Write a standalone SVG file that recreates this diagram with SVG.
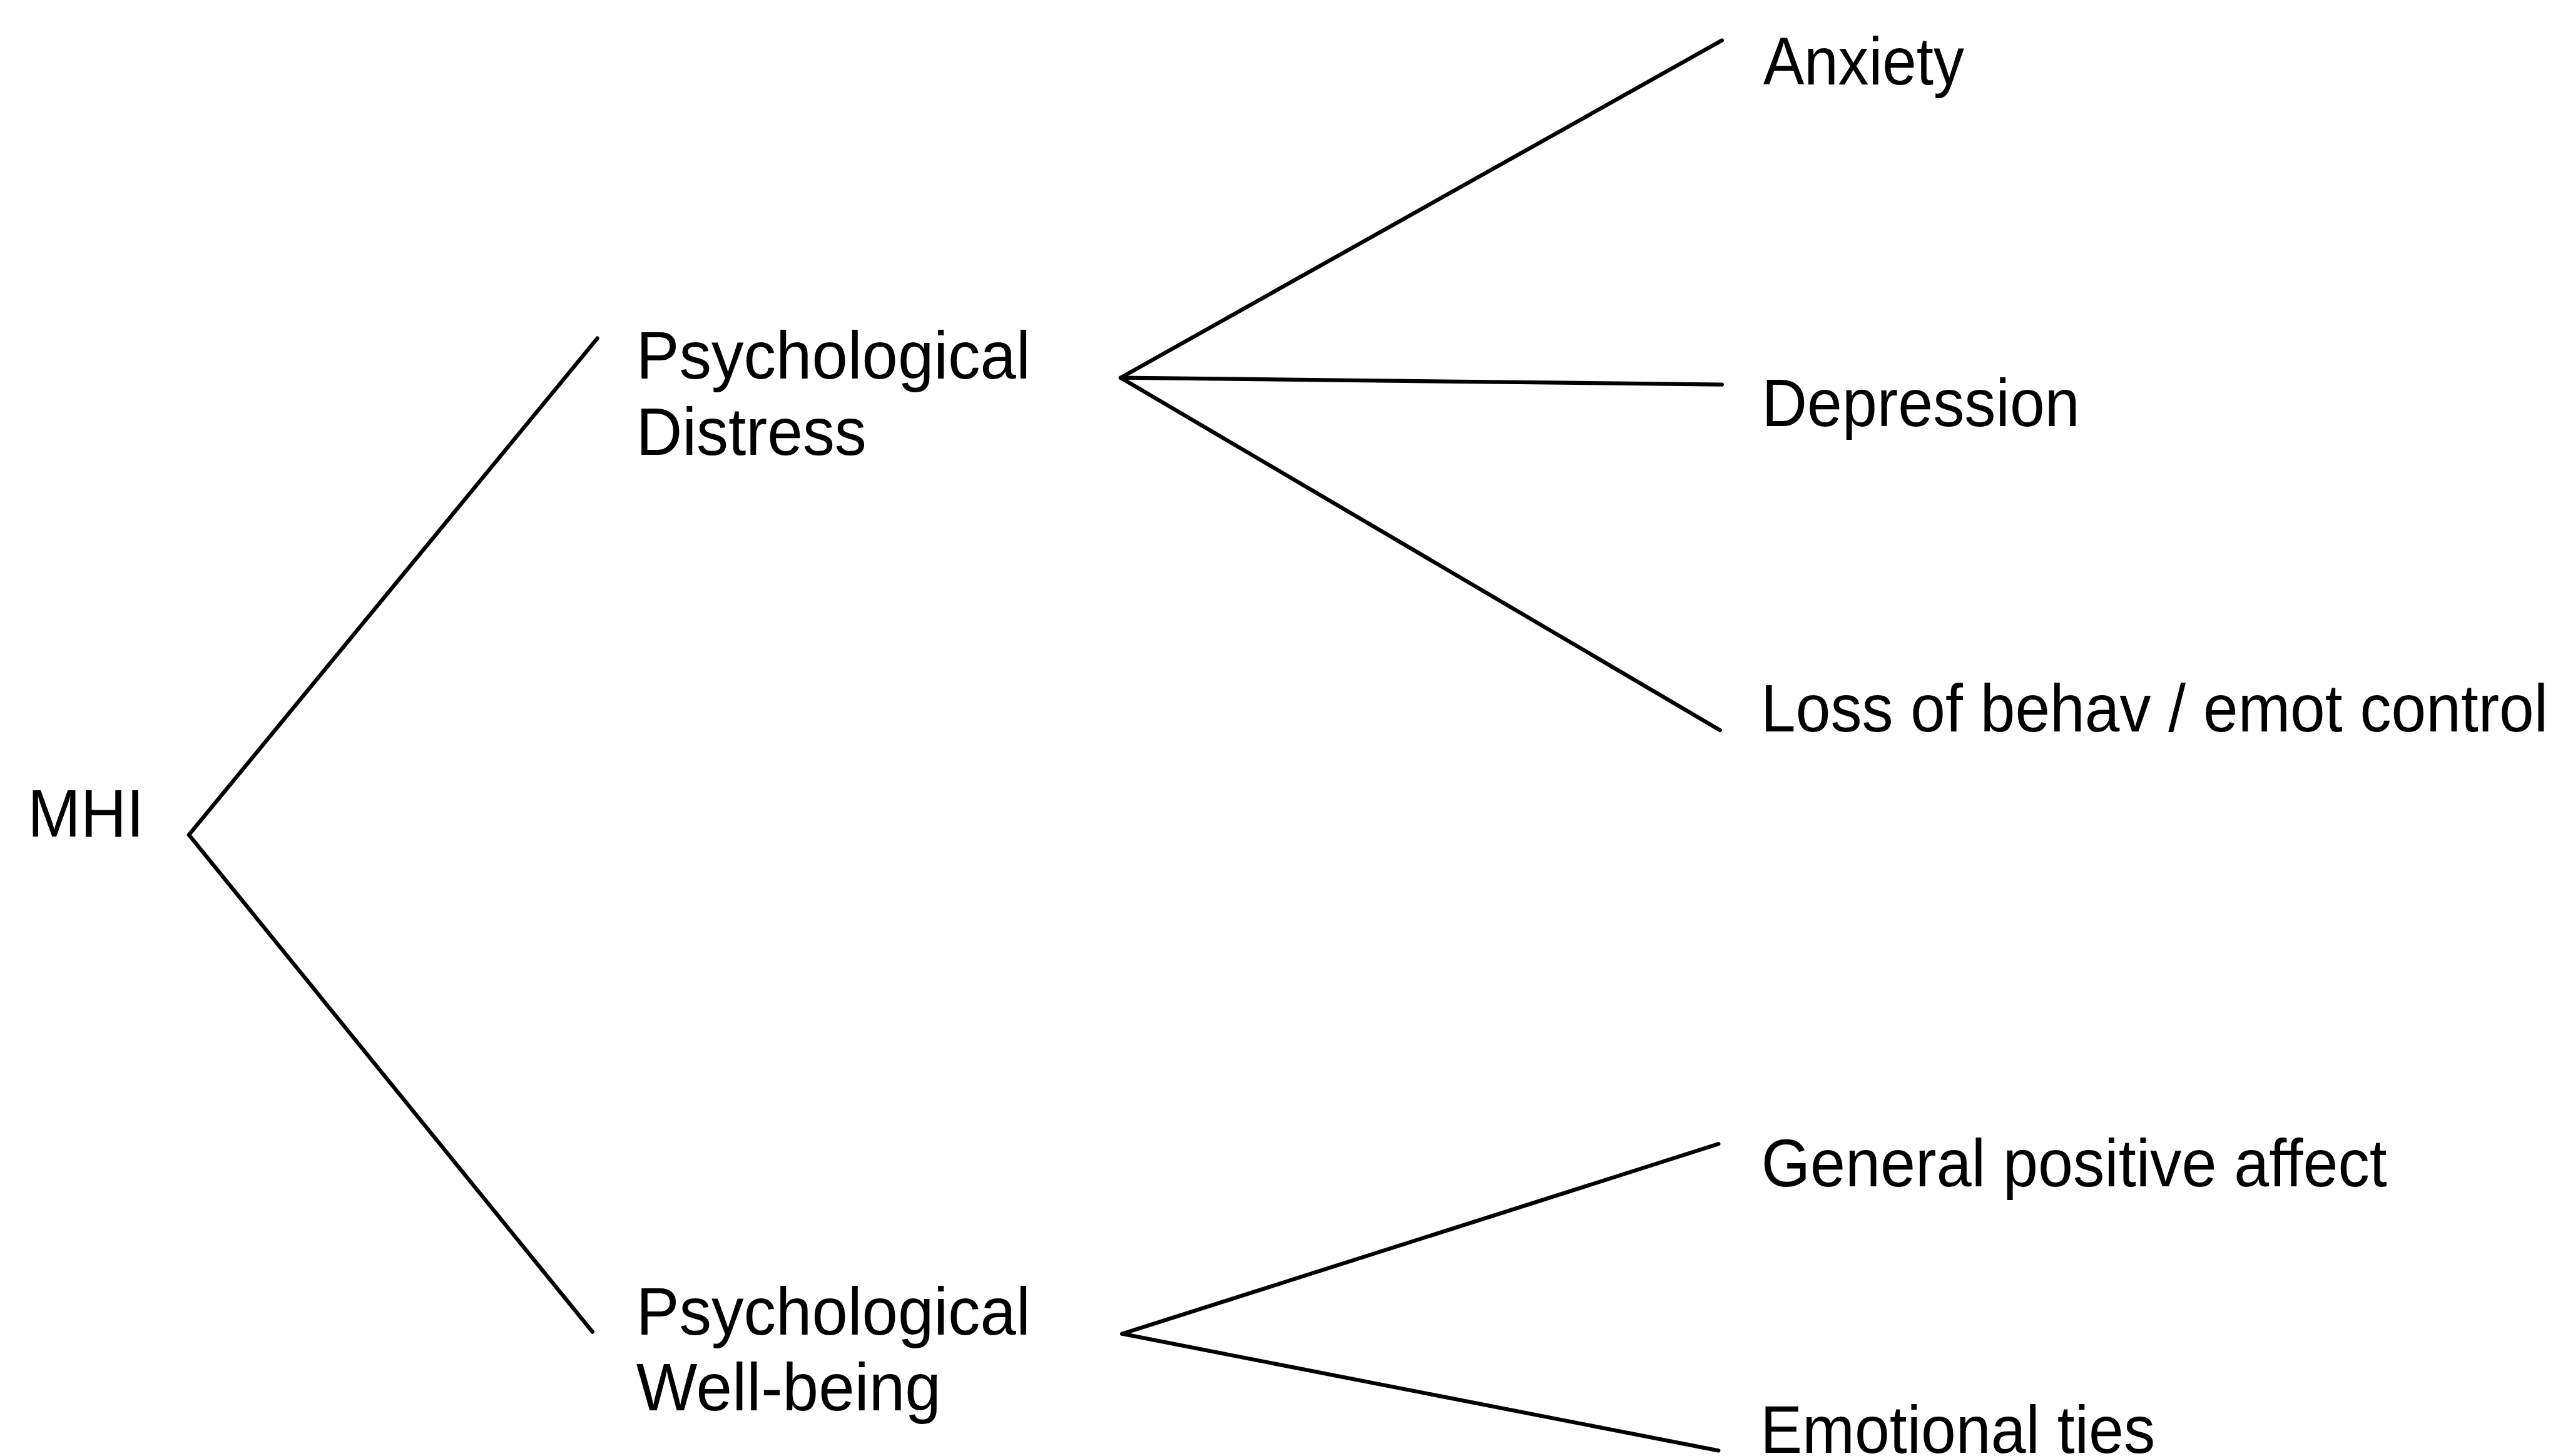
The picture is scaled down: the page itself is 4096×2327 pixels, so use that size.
<svg xmlns="http://www.w3.org/2000/svg" width="4096" height="2327" viewBox="0 0 4096 2327">
<style>
text{font-family:"Liberation Sans",Arial,sans-serif;font-size:107px;fill:#000}
.c line{stroke:#000;stroke-width:6.3;stroke-linecap:round}
</style>
<rect width="4096" height="2327" fill="#fff"/>
<g class="c" id="connectors">
<line x1="301.9" y1="1334.3" x2="954.6" y2="540.7"/>
<line x1="301.9" y1="1334.3" x2="946.8" y2="2128.6"/>
<line x1="1791" y1="603.7" x2="2751.8" y2="64.6"/>
<line x1="1791" y1="603.7" x2="2751.8" y2="614.6"/>
<line x1="1791" y1="603.7" x2="2748.7" y2="1167"/>
<line x1="1793.3" y1="2131.7" x2="2746.3" y2="1828.3"/>
<line x1="1793.3" y1="2131.7" x2="2746.3" y2="2318.4"/>
</g>
<g id="mhi"><text x="44.3" y="1336.6" textLength="186" lengthAdjust="spacingAndGlyphs">MHI</text></g>
<g id="distress"><text x="1016.8" y="605.3" textLength="630" lengthAdjust="spacingAndGlyphs">Psychological</text><text x="1016.8" y="727.4" textLength="368" lengthAdjust="spacingAndGlyphs">Distress</text></g>
<g id="wellbeing"><text x="1016.8" y="2132.5" textLength="630" lengthAdjust="spacingAndGlyphs">Psychological</text><text x="1016.8" y="2253.9" textLength="487" lengthAdjust="spacingAndGlyphs">Well-being</text></g>
<g id="anxiety"><text x="2817.9" y="135.4" textLength="321" lengthAdjust="spacingAndGlyphs">Anxiety</text></g>
<g id="depression"><text x="2815.6" y="680.75" textLength="508" lengthAdjust="spacingAndGlyphs">Depression</text></g>
<g id="loss"><text x="2814" y="1168.6" textLength="1258" lengthAdjust="spacingAndGlyphs">Loss of behav / emot control</text></g>
<g id="general"><text x="2814.8" y="1896" textLength="1000" lengthAdjust="spacingAndGlyphs">General positive affect</text></g>
<g id="emotional"><text x="2813.2" y="2322" textLength="631" lengthAdjust="spacingAndGlyphs">Emotional ties</text></g>
</svg>
